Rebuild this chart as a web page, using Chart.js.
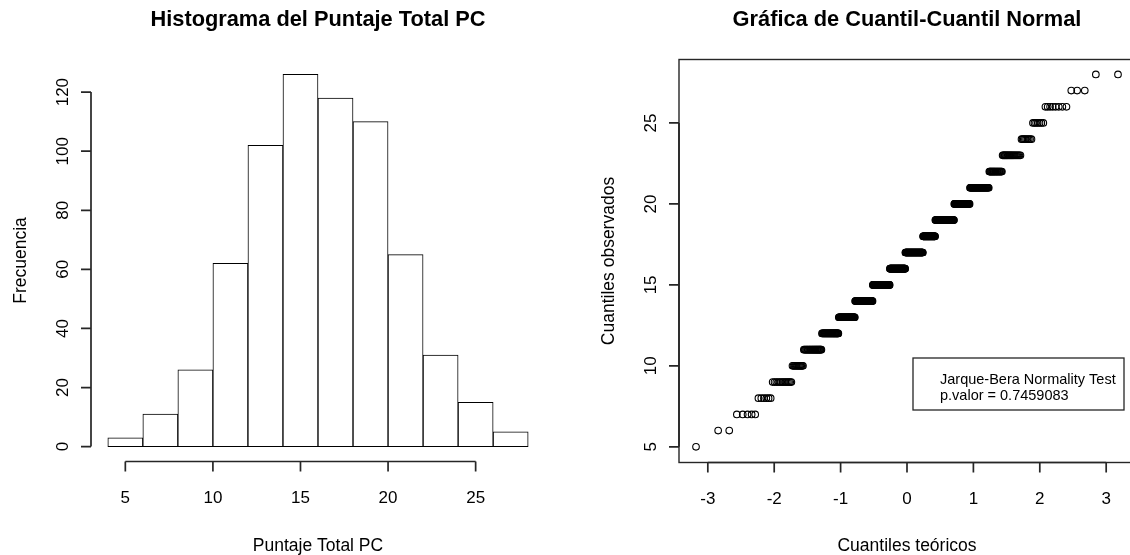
<!DOCTYPE html>
<html lang="es">
<head>
<meta charset="utf-8">
<title>Histograma y Q-Q normal</title>
<script src="https://cdn.jsdelivr.net/npm/chart.js@4.4.1/dist/chart.umd.min.js"></script>
<style>
  html, body { margin: 0; padding: 0; background: #fff; overflow: hidden; }
  #hist { position: absolute; left: 0; top: 0; }
  #qq   { position: absolute; left: 565px; top: 0; }
</style>
</head>
<body>
<canvas id="hist" width="565" height="555"></canvas>
<canvas id="qq" width="580" height="555"></canvas>

<script>
/* ===========================
   HISTOGRAMA + QQ NORMAL
   =========================== */

// ─── DATOS ────────────────────────────────────────────────
// histograma: clases de ancho 2 (4,6] ... (26,28]
const cortes      = [4, 6, 8, 10, 12, 14, 16, 18, 20, 22, 24, 26, 28];
const frecuencias = [3, 11, 26, 62, 102, 126, 118, 110, 65, 31, 15, 5];

const puntajes = [5, 6, 7, 8, 9, 10, 11, 12, 13, 14, 15, 16, 17, 18, 19, 20, 21, 22, 23, 24, 25, 26, 27, 28];
const repeticiones = [1, 2, 5, 6, 14, 12, 27, 35, 44, 58, 64, 62, 71, 47, 65, 45, 43, 22, 22, 9, 7, 8, 3, 2];

// marcas de los ejes
const ticksHistX = [5, 10, 15, 20, 25];
const ticksHistY = [0, 20, 40, 60, 80, 100, 120];
const ticksQqX   = [-3, -2, -1, 0, 1, 2, 3];
const ticksQqY   = [5, 10, 15, 20, 25];

const pValor = '0.7459083';

// ─── UTILS ────────────────────────────────────────────────
const FUENTE = "'Liberation Sans', Arial, Helvetica, sans-serif";

// cuantil normal (Acklam)
function qnorm(p) {
  const a = [-39.69683028665376, 220.9460984245205, -275.9285104469687, 138.3577518672690, -30.66479806614716, 2.506628277459239];
  const b = [-54.47609879822406, 161.5858368580409, -155.6989798598866, 66.80131188771972, -13.28068155288572];
  const c = [-0.007784894002430293, -0.3223964580411365, -2.400758277161838, -2.549671010243000, 4.374664141464968, 2.938163982698783];
  const d = [0.007784695709041462, 0.3224671290700398, 2.445134137142996, 3.754408661907416];
  const lo = 0.02425;
  let q, r;
  if (p < lo) {
    q = Math.sqrt(-2 * Math.log(p));
    return (((((c[0]*q+c[1])*q+c[2])*q+c[3])*q+c[4])*q+c[5]) / ((((d[0]*q+d[1])*q+d[2])*q+d[3])*q+1);
  }
  if (p > 1 - lo) {
    q = Math.sqrt(-2 * Math.log(1 - p));
    return -(((((c[0]*q+c[1])*q+c[2])*q+c[3])*q+c[4])*q+c[5]) / ((((d[0]*q+d[1])*q+d[2])*q+d[3])*q+1);
  }
  q = p - 0.5; r = q * q;
  return (((((a[0]*r+a[1])*r+a[2])*r+a[3])*r+a[4])*r+a[5])*q / (((((b[0]*r+b[1])*r+b[2])*r+b[3])*r+b[4])*r+1);
}

// puntos del Q-Q: muestra ordenada contra qnorm(ppoints(n))
function puntosQQ() {
  const orden = [];
  puntajes.forEach((v, i) => { for (let k = 0; k < repeticiones[i]; k++) orden.push(v); });
  const n = orden.length;
  return orden.map((v, i) => ({ x: qnorm((i + 1 - 0.5) / n), y: v }));
}

// ─── EJES ESTILO R ────────────────────────────────────────
const ejesR = {
  id: 'ejesR',
  afterDraw(chart, args, o) {
    const { ctx, chartArea: a, scales: { x, y } } = chart;
    ctx.save();
    ctx.strokeStyle = '#262626';
    ctx.fillStyle = '#000';
    ctx.lineWidth = 1.7;

    if (o.caja) {
      ctx.lineWidth = 1.4;
      ctx.strokeRect(a.left, a.top, a.right - a.left, a.bottom - a.top);
      ctx.lineWidth = 1.7;
    }

    // eje x
    const xa = x.getPixelForValue(o.ticksX[0]);
    const xb = x.getPixelForValue(o.ticksX[o.ticksX.length - 1]);
    ctx.beginPath();
    ctx.moveTo(xa, a.bottom); ctx.lineTo(xb, a.bottom);
    o.ticksX.forEach(t => {
      const px = x.getPixelForValue(t);
      ctx.moveTo(px, a.bottom); ctx.lineTo(px, a.bottom + 10);
    });
    ctx.stroke();

    ctx.font = '17px ' + FUENTE;
    ctx.textAlign = 'center';
    ctx.textBaseline = 'middle';
    o.ticksX.forEach(t => ctx.fillText(String(t), x.getPixelForValue(t), a.bottom + 37));

    // eje y
    const ya = y.getPixelForValue(o.ticksY[0]);
    const yb = y.getPixelForValue(o.ticksY[o.ticksY.length - 1]);
    ctx.beginPath();
    ctx.moveTo(a.left, ya); ctx.lineTo(a.left, yb);
    o.ticksY.forEach(t => {
      const py = y.getPixelForValue(t);
      ctx.moveTo(a.left, py); ctx.lineTo(a.left - 10, py);
    });
    ctx.stroke();

    o.ticksY.forEach(t => {
      ctx.save();
      ctx.translate(a.left - 28, y.getPixelForValue(t));
      ctx.rotate(-Math.PI / 2);
      ctx.fillText(String(t), 0, 0);
      ctx.restore();
    });

    // títulos
    const cx = (a.left + a.right) / 2;
    ctx.textBaseline = 'alphabetic';
    ctx.font = 'bold 21.8px ' + FUENTE;
    ctx.fillText(o.titulo, cx, 26);

    ctx.font = '17.5px ' + FUENTE;
    ctx.fillText(o.tituloX, cx, 551);

    ctx.save();
    ctx.translate(a.left - 65, (a.top + a.bottom) / 2);
    ctx.rotate(-Math.PI / 2);
    ctx.fillText(o.tituloY, 0, 0);
    ctx.restore();

    // recuadro de la prueba
    if (o.leyenda) {
      const w = 211, h = 52;
      const lx = a.right - 11 - w, ly = a.bottom - 52.5 - h;
      ctx.lineWidth = 1.3;
      ctx.strokeRect(lx, ly, w, h);
      ctx.font = '14.5px ' + FUENTE;
      ctx.textAlign = 'left';
      ctx.textBaseline = 'middle';
      o.leyenda.forEach((t, i) => ctx.fillText(t, lx + 27, ly + 22 + i * 16));
    }
    ctx.restore();
  }
};

const sinAdornos = { legend: { display: false }, tooltip: { enabled: false } };

// ─── HISTOGRAMA ───────────────────────────────────────────
new Chart(document.getElementById('hist'), {
  type: 'bar',
  data: {
    datasets: [{
      data: frecuencias.map((f, i) => ({ x: (cortes[i] + cortes[i + 1]) / 2, y: f })),
      backgroundColor: '#fff',
      borderColor: '#000',
      borderWidth: 1,
      borderSkipped: false,
      barPercentage: 1,
      categoryPercentage: 1
    }]
  },
  options: {
    responsive: false,
    animation: false,
    devicePixelRatio: 1,
    layout: { padding: { left: 91, right: 20, top: 59.5, bottom: 93.5 } },
    scales: {
      x: { type: 'linear', offset: false, min: 3.04, max: 28.96, display: false, ticks: { stepSize: 5, includeBounds: false } },
      y: { type: 'linear', min: -5.04, max: 131.04, display: false, ticks: { stepSize: 20, includeBounds: false } }
    },
    plugins: {
      ...sinAdornos,
      ejesR: {
        ticksX: ticksHistX, ticksY: ticksHistY,
        titulo: 'Histograma del Puntaje Total PC',
        tituloX: 'Puntaje Total PC',
        tituloY: 'Frecuencia'
      }
    }
  },
  plugins: [ejesR]
});

// ─── Q-Q NORMAL ───────────────────────────────────────────
new Chart(document.getElementById('qq'), {
  type: 'scatter',
  data: {
    datasets: [{
      data: puntosQQ(),
      pointStyle: 'circle',
      pointRadius: 3.3,
      pointBorderWidth: 1.1,
      pointBackgroundColor: 'rgba(0,0,0,0)',
      pointBorderColor: '#000'
    }]
  },
  options: {
    responsive: false,
    animation: false,
    devicePixelRatio: 1,
    layout: { padding: { left: 114, right: 10, top: 59.5, bottom: 92.5 } },
    scales: {
      x: { type: 'linear', min: -3.434, max: 3.434, display: false },
      y: { type: 'linear', min: 4.03, max: 28.92, display: false }
    },
    plugins: {
      ...sinAdornos,
      ejesR: {
        caja: true,
        ticksX: ticksQqX, ticksY: ticksQqY,
        titulo: 'Gráfica de Cuantil-Cuantil Normal',
        tituloX: 'Cuantiles teóricos',
        tituloY: 'Cuantiles observados',
        leyenda: ['Jarque-Bera Normality Test', 'p.valor = ' + pValor]
      }
    }
  },
  plugins: [ejesR]
});
</script>
</body>
</html>
